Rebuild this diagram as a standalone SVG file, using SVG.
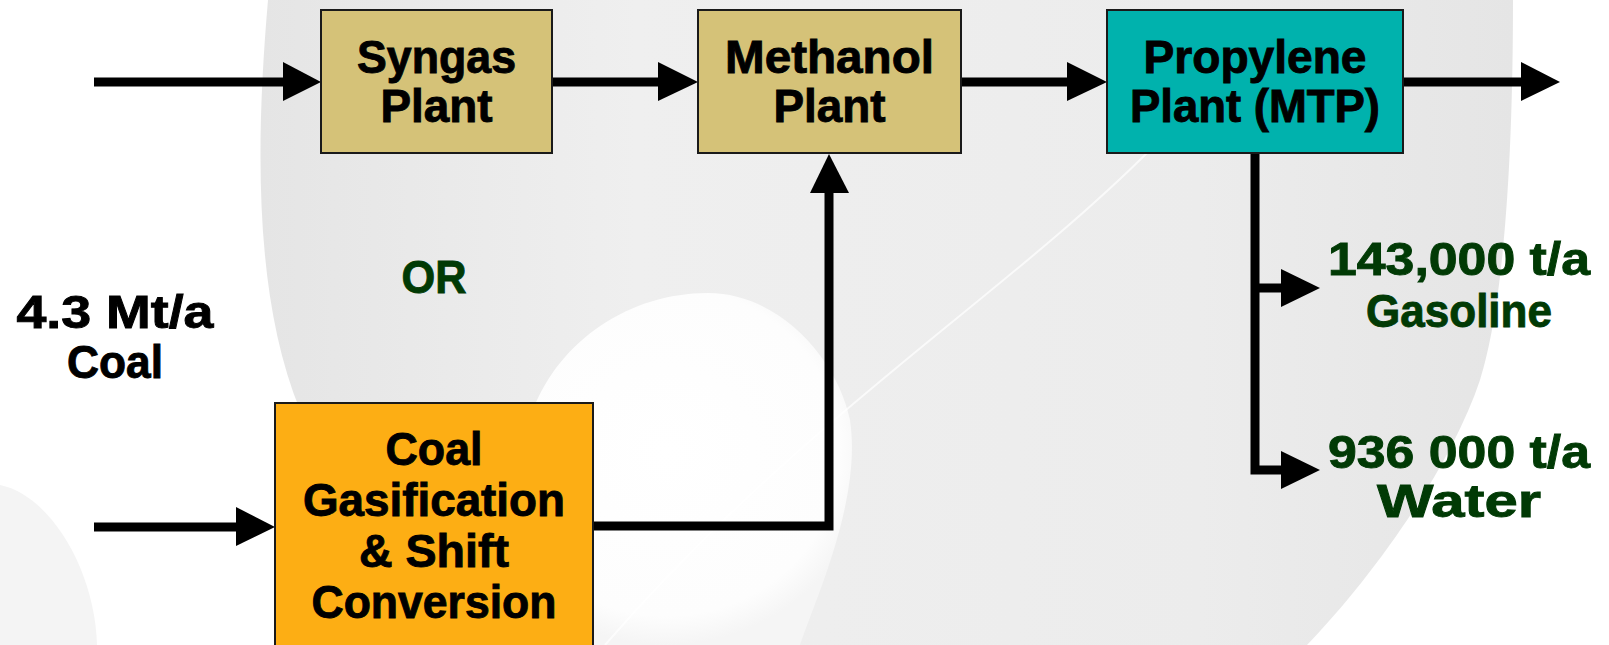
<svg xmlns="http://www.w3.org/2000/svg" width="1609" height="645" viewBox="0 0 1609 645">
<defs>
<linearGradient id="bgGrad" x1="0" y1="0" x2="1" y2="0">
<stop offset="0" stop-color="#e5e5e5"/>
<stop offset="0.3" stop-color="#efefef"/>
<stop offset="0.75" stop-color="#ececec"/>
<stop offset="1" stop-color="#e5e5e5"/>
</linearGradient>
<radialGradient id="blobGrad" cx="0.5" cy="0.45" r="0.55">
<stop offset="0" stop-color="#ffffff"/>
<stop offset="0.85" stop-color="#fdfdfd"/>
<stop offset="1" stop-color="#f5f5f5"/>
</radialGradient>
<style>
.box{stroke:#1a1a1a;stroke-width:2}
.tan{fill:#d5c278}
.teal{fill:#00b2ad}
.orange{fill:#fdae14}
.t{font-family:"Liberation Sans",Arial,sans-serif;font-weight:bold;font-size:46px;text-anchor:middle;fill:#000;stroke:#000;stroke-width:0.9}
.g{fill:#013a05;stroke:#013a05}
.ln{fill:none;stroke:#000;stroke-width:9;stroke-linejoin:miter}
.hd{fill:#000}
</style>
</defs>
<rect x="0" y="0" width="1609" height="645" fill="#ffffff"/>
<g id="background">
<path d="M268,0 C255,150 255,300 300,410 L300,645 L1307,645 C1370,580 1450,470 1480,380 C1505,300 1513,150 1513,0 Z" fill="url(#bgGrad)"/>
<path d="M708,293 C780,293 838,360 850,420 C862,500 815,600 800,645 L480,645 C500,520 520,440 533,410 C560,340 630,293 708,293 Z" fill="url(#blobGrad)"/>
<path d="M0,485 C50,495 95,570 97,645 L0,645 Z" fill="#f4f4f4"/>
<path d="M1150,150 C1000,300 800,420 605,645" fill="none" stroke="#ffffff" stroke-width="2" opacity="0.7"/>
</g>
<g id="connectors">
<line class="ln" x1="94" y1="82" x2="286" y2="82"/>
<polygon class="hd" points="283,62 321,82 283,101"/>
<line class="ln" x1="552" y1="82" x2="661" y2="82"/>
<polygon class="hd" points="658,62 698,82 658,101"/>
<line class="ln" x1="961" y1="82" x2="1070" y2="82"/>
<polygon class="hd" points="1067,62 1107,82 1067,101"/>
<line class="ln" x1="1403" y1="82" x2="1524" y2="82"/>
<polygon class="hd" points="1521,62 1560,82 1521,101"/>
<line class="ln" x1="94" y1="527" x2="239" y2="527"/>
<polygon class="hd" points="236,507 275,527 236,546"/>
<polyline class="ln" points="593,526 829,526 829,190"/>
<polygon class="hd" points="810,193 829,154 849,193"/>
<polyline class="ln" points="1255,153 1255,470 1284,470"/>
<polygon class="hd" points="1281,451 1320,470 1281,489"/>
<line class="ln" x1="1255" y1="288" x2="1284" y2="288"/>
<polygon class="hd" points="1281,269 1320,288 1281,307"/>
</g>
<g id="syngas">
<rect class="box tan" x="321" y="10" width="231" height="143"/>
<text class="t" x="436.5" y="73" textLength="159" lengthAdjust="spacingAndGlyphs">Syngas</text>
<text class="t" x="436.5" y="122" textLength="112" lengthAdjust="spacingAndGlyphs">Plant</text>
</g>
<g id="methanol">
<rect class="box tan" x="698" y="10" width="263" height="143"/>
<text class="t" x="829.5" y="73" textLength="209" lengthAdjust="spacingAndGlyphs">Methanol</text>
<text class="t" x="829.5" y="122" textLength="112" lengthAdjust="spacingAndGlyphs">Plant</text>
</g>
<g id="propylene">
<rect class="box teal" x="1107" y="10" width="296" height="143"/>
<text class="t" x="1255" y="73" textLength="223" lengthAdjust="spacingAndGlyphs">Propylene</text>
<text class="t" x="1255" y="122" textLength="250" lengthAdjust="spacingAndGlyphs">Plant (MTP)</text>
</g>
<g id="gasification">
<rect class="box orange" x="275" y="403" width="318" height="260"/>
<text class="t" x="434" y="465" textLength="97" lengthAdjust="spacingAndGlyphs">Coal</text>
<text class="t" x="434" y="516" textLength="262" lengthAdjust="spacingAndGlyphs">Gasification</text>
<text class="t" x="434" y="567" textLength="150" lengthAdjust="spacingAndGlyphs">&amp; Shift</text>
<text class="t" x="434" y="618" textLength="245" lengthAdjust="spacingAndGlyphs">Conversion</text>
</g>
<g id="coal-input">
<text class="t" x="115" y="328" textLength="197" lengthAdjust="spacingAndGlyphs">4.3 Mt/a</text>
<text class="t" x="115" y="378" textLength="96" lengthAdjust="spacingAndGlyphs">Coal</text>
</g>
<g id="or-label">
<text class="t g" x="434" y="293" textLength="65" lengthAdjust="spacingAndGlyphs">OR</text>
</g>
<g id="gasoline">
<text class="t g" x="1459" y="275" textLength="262" lengthAdjust="spacingAndGlyphs">143,000 t/a</text>
<text class="t g" x="1459" y="327" textLength="186" lengthAdjust="spacingAndGlyphs">Gasoline</text>
</g>
<g id="water">
<text class="t g" x="1459" y="468" textLength="262" lengthAdjust="spacingAndGlyphs">936 000 t/a</text>
<text class="t g" x="1459" y="517" textLength="164" lengthAdjust="spacingAndGlyphs">Water</text>
</g>
</svg>
